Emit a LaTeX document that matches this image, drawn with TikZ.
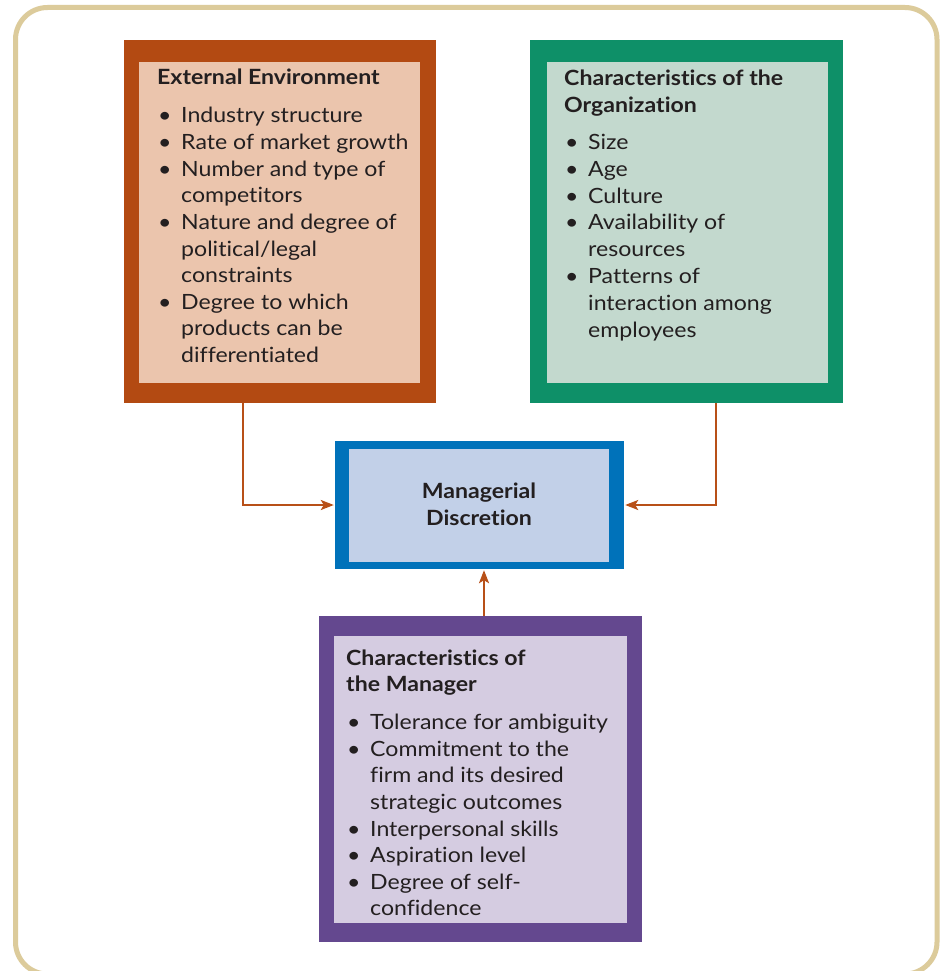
\documentclass[tikz,border=0pt]{standalone}
\usepackage{fontspec}
\setmainfont{Lato}[Ligatures=NoCommon, FakeStretch=1.1]
\usetikzlibrary{arrows.meta}
\definecolor{frameC}{HTML}{DCCB9B}
\definecolor{txtC}{HTML}{231F20}
\definecolor{arrC}{HTML}{B85018}
\definecolor{orO}{HTML}{B34A12}
\definecolor{orI}{HTML}{EBC5AD}
\definecolor{grO}{HTML}{0E9068}
\definecolor{grI}{HTML}{C3D9CE}
\definecolor{blO}{HTML}{0072BA}
\definecolor{blI}{HTML}{C2D0E8}
\definecolor{puO}{HTML}{64488F}
\definecolor{puI}{HTML}{D5CCE1}
\newcommand\bitem[1]{\par\hangindent=24pt\hangafter=1\noindent\makebox[24pt][l]{\hspace{1pt}\textbullet}#1}
\newcommand\bhead[1]{\noindent\textbf{#1}\par\vspace{11.4pt}}
\tikzset{
  outerbox/.style={rectangle, inner sep=0pt, draw=none},
  txtblock/.style={anchor=base west, inner sep=0pt, text=txtC},
  arr/.style={draw=arrC, line width=2pt, -{Stealth[length=13pt,width=10pt,inset=3pt]}, shorten >=1pt},
}
\begin{document}
\begin{tikzpicture}[x=1pt,y=-1pt]
\fill[white] (0,0) rectangle (940,971);
\useasboundingbox (0,0) rectangle (940,971);
\draw[frameC, line width=5pt, rounded corners=32pt] (15.5,7.5) rectangle (937,974);

% External environment
\node[outerbox, fill=orO, minimum width=312pt, minimum height=363pt] (env) at (280,221.5) {};
\fill[orI] (139,62) rectangle (420,383);
\node[txtblock] (envtxt) at (157,85) {\parbox[t]{340pt}{\fontsize{21}{26.6}\selectfont
\bhead{External Environment}
\bitem{Industry structure}
\bitem{Rate of market growth}
\bitem{Number and type of\\competitors}
\bitem{Nature and degree of\\political/legal\\constraints}
\bitem{Degree to which\\products can be\\differentiated}}};

% Organization
\node[outerbox, fill=grO, minimum width=313pt, minimum height=363pt] (org) at (686.5,221.5) {};
\fill[grI] (547,62) rectangle (828,383);
\node[txtblock] (orgtxt) at (564,85.5) {\parbox[t]{340pt}{\fontsize{21}{26.8}\selectfont
\noindent\textbf{Characteristics of the\\Organization}\par\vspace{10.5pt}
\bitem{Size}
\bitem{Age}
\bitem{Culture}
\bitem{Availability of\\resources}
\bitem{Patterns of\\interaction among\\employees}}};

% Managerial discretion
\node[outerbox, fill=blO, minimum width=289pt, minimum height=128pt] (disc) at (479.5,505) {};
\fill[blI] (349,449) rectangle (609,562);
\node[anchor=base, inner sep=0pt, text=txtC] (disctxt) at (479,498) {\parbox[t]{240pt}{\fontsize{21}{27}\selectfont\centering\textbf{Managerial\\Discretion}}};

% Manager
\node[outerbox, fill=puO, minimum width=323pt, minimum height=326pt] (mgr) at (480.5,779) {};
\fill[puI] (334,636) rectangle (627,923);
\node[txtblock] (mgrtxt) at (346,665) {\parbox[t]{340pt}{\fontsize{21}{26.6}\selectfont
\noindent\textbf{Characteristics of\\the Manager}\par\vspace{11.4pt}
\bitem{Tolerance for ambiguity}
\bitem{Commitment to the\\firm and its desired\\strategic outcomes}
\bitem{Interpersonal skills}
\bitem{Aspiration level}
\bitem{Degree of self-\\confidence}}};

% connectors
\draw[arr] ([xshift=-37pt]env.south) |- (disc.west);
\draw[arr] ([xshift=29.5pt]org.south) |- (disc.east);
\draw[arr] ([xshift=3.5pt]mgr.north) -- ([xshift=4.5pt]disc.south);
\end{tikzpicture}
\end{document}
